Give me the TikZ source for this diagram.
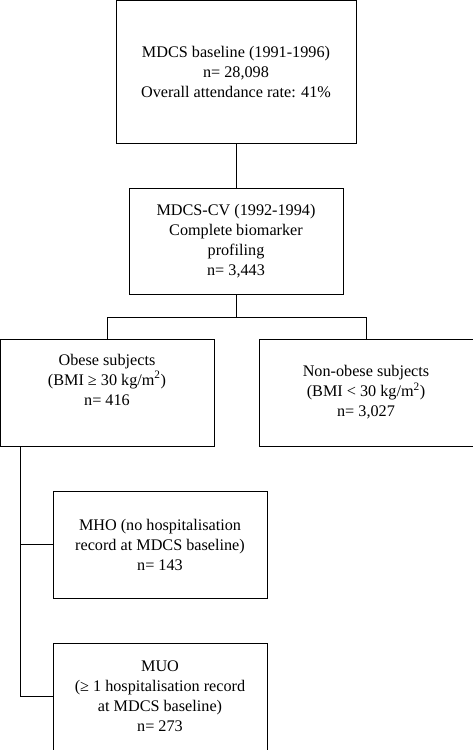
\documentclass[tikz,border=0pt]{standalone}
\usepackage{fontspec}
\setmainfont{Liberation Serif}
\usepackage{tikz}

\begin{document}
\begin{tikzpicture}[x=1pt, y=-1pt,
		boxnode/.style={draw, line width=1pt, align=center, inner sep=0pt,
			minimum width=214pt, minimum height=107pt,
			font=\fontsize{16.2}{20}\selectfont}]
			%%%%% START %%%%%
			
			\useasboundingbox (0, 0) rectangle (473, 750);
			
			\node[boxnode, minimum width=240pt, minimum height=143pt] (baseline) at (236, 71.5)
				{MDCS baseline (1991-1996)\\n= 28,098\\Overall attendance rate: 41\%};
			\node[boxnode, minimum height=106pt] (mdcscv) at (236, 241)
				{MDCS-CV (1992-1994)\\Complete biomarker\\profiling\\n= 3,443};
			
			\node[boxnode] (obese) at (107, 392.5)
				{Obese subjects\\(BMI ≥ 30 kg/m\textsuperscript{2})\\n= 416\\\strut};
			\node[boxnode] (nonobese) at (366, 392.5)
				{Non-obese subjects\\(BMI < 30 kg/m\textsuperscript{2})\\n= 3,027};
			
			\node[boxnode] (mho) at (160, 544.5)
				{MHO (no hospitalisation\\record at MDCS baseline)\\n= 143};
			\node[boxnode] (muo) at (160, 696.5)
				{MUO\\(≥ 1 hospitalisation record\\at MDCS baseline)\\n= 273};
			
			\draw[line width=1pt] (baseline.south) -- (mdcscv.north);
			\draw[line width=1pt] (mdcscv.south) -- ++(0, 23) coordinate (split);
			\draw[line width=1pt] (obese.north) |- (split) -| (nonobese.north);
			
			\draw[line width=1pt] ([xshift=21pt]obese.south west) coordinate (trunk) |- (muo.west);
			\draw[line width=1pt] (trunk |- mho.west) -- (mho.west);
			
			%%%%% END %%%%%
		\end{tikzpicture}
\end{document}
